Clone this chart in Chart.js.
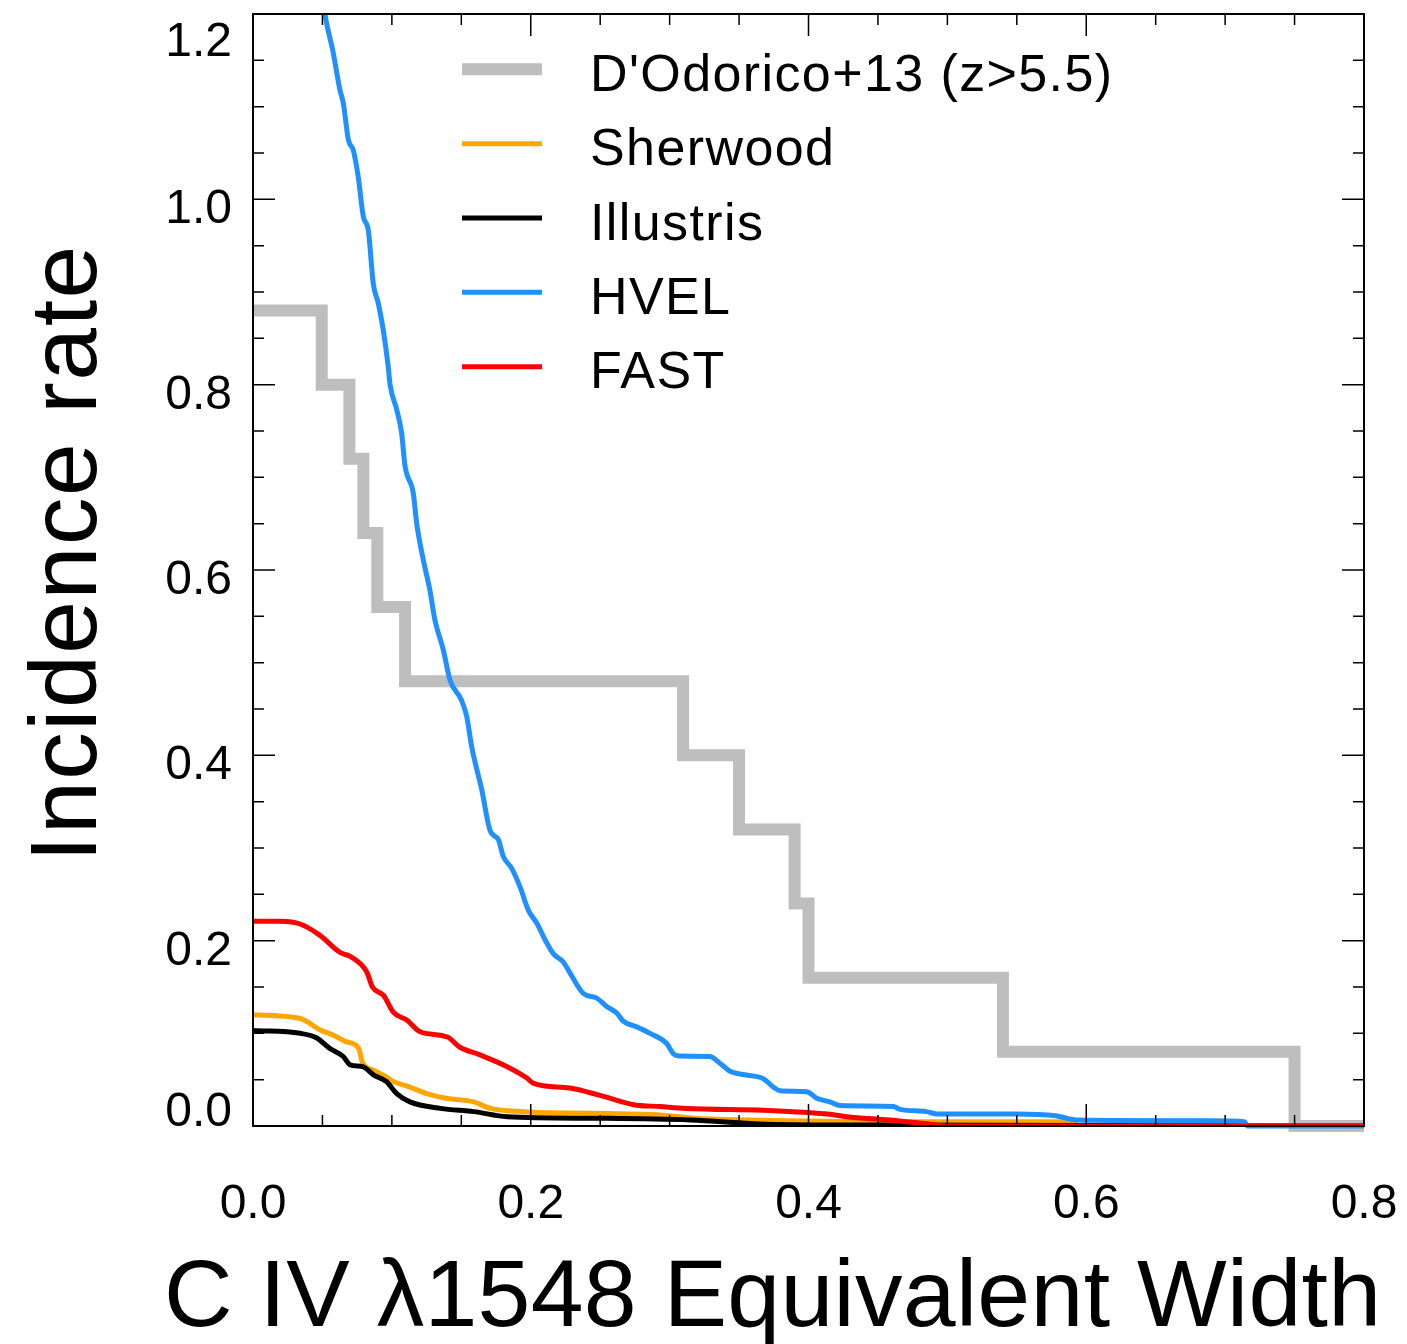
<!DOCTYPE html>
<html><head><meta charset="utf-8">
<script src="https://cdn.jsdelivr.net/npm/chart.js@4/dist/chart.umd.min.js"></script>
<style>html,body{margin:0;padding:0;background:#fff}#wrap{width:1407px;height:1344px;position:relative}</style>
</head><body><div id="wrap"><canvas id="c" width="1407" height="1344"></canvas></div>
<script>
const seriesNames = ["D'Odorico+13 (z>5.5)", 'Sherwood', 'Illustris', 'HVEL', 'FAST'];
const seriesColors = ['#bebebe', '#ffa500', '#000000', '#1e90ff', '#ff0000'];
const xTickLabels = ['0.0', '0.2', '0.4', '0.6', '0.8'];
const yTickLabels = ['0.0', '0.2', '0.4', '0.6', '0.8', '1.0', '1.2'];
const xTitle = 'C IV \u03bb1548 Equivalent Width';
const yTitle = 'Incidence rate';

// D'Odorico+13 observed step function
const dodoricoEW   = [0, 0.0495, 0.0694, 0.0795, 0.0895, 0.1095, 0.3097, 0.350, 0.390, 0.400, 0.540, 0.750, 0.800];
const dodoricoRate = [0.88, 0.80, 0.72, 0.64, 0.56, 0.48, 0.40, 0.32, 0.24, 0.16, 0.08, 0.0, 0.0];

// Sherwood
const sherwoodEW   = [0, 0.034, 0.048, 0.058, 0.067, 0.076, 0.079, 0.087, 0.096, 0.101, 0.113, 0.125, 0.139, 0.159, 0.171, 0.195, 0.2475, 0.293, 0.317, 0.358, 0.456, 0.590, 0.595, 0.800];
const sherwoodRate = [0.120, 0.116, 0.104, 0.098, 0.091, 0.084, 0.068, 0.060, 0.053, 0.048, 0.042, 0.035, 0.030, 0.026, 0.019, 0.0155, 0.0137, 0.012, 0.0083, 0.0065, 0.0047, 0.0045, 0.0, 0.0];

// Illustris
const illustrisEW   = [0, 0.034, 0.046, 0.055, 0.065, 0.070, 0.079, 0.087, 0.096, 0.1035, 0.113, 0.135, 0.159, 0.183, 0.250, 0.315, 0.370, 0.450, 0.800];
const illustrisRate = [0.103, 0.100, 0.095, 0.084, 0.075, 0.066, 0.064, 0.055, 0.048, 0.035, 0.026, 0.019, 0.0155, 0.010, 0.0083, 0.0065, 0.002, 0.001, 0.0];

// HVEL
const hvelEW   = [0, 0.020, 0.035, 0.045, 0.0518, 0.0578, 0.0626, 0.065, 0.0687, 0.0722, 0.0758, 0.0795, 0.083, 0.0866, 0.0902, 0.0938, 0.0974, 0.0986, 0.1035, 0.107, 0.1095, 0.1154, 0.1179, 0.1226, 0.1274, 0.131, 0.137, 0.1419, 0.150, 0.1539, 0.1575, 0.1647, 0.1707, 0.1767, 0.1802, 0.1863, 0.1923, 0.1982, 0.2043, 0.2103, 0.2162, 0.2234, 0.2283, 0.2378, 0.2475, 0.2547, 0.2619, 0.2667, 0.2763, 0.2859, 0.2979, 0.3027, 0.3075, 0.329, 0.336, 0.3435, 0.3555, 0.3675, 0.3747, 0.3795, 0.3987, 0.4059, 0.4155, 0.4227, 0.4611, 0.4659, 0.485, 0.4923, 0.5499, 0.578, 0.593, 0.689, 0.714, 0.716, 0.800];
const hvelRate = [1.52, 1.47, 1.37, 1.28, 1.200, 1.158, 1.118, 1.104, 1.064, 1.053, 1.024, 0.981, 0.967, 0.909, 0.888, 0.859, 0.819, 0.801, 0.773, 0.748, 0.712, 0.683, 0.650, 0.611, 0.578, 0.546, 0.514, 0.481, 0.460, 0.442, 0.409, 0.363, 0.319, 0.309, 0.291, 0.278, 0.258, 0.233, 0.219, 0.201, 0.186, 0.177, 0.165, 0.143, 0.138, 0.129, 0.122, 0.113, 0.107, 0.100, 0.089, 0.078, 0.0755, 0.075, 0.068, 0.059, 0.055, 0.051, 0.042, 0.038, 0.037, 0.030, 0.026, 0.022, 0.021, 0.018, 0.0155, 0.013, 0.013, 0.011, 0.0065, 0.0057, 0.0047, 0.0, 0.0];

// FAST
const fastEW   = [0, 0.020, 0.034, 0.048, 0.063, 0.070, 0.082, 0.086, 0.094, 0.101, 0.111, 0.120, 0.140, 0.149, 0.163, 0.183, 0.197, 0.202, 0.228, 0.250, 0.274, 0.293, 0.312, 0.3675, 0.389, 0.4155, 0.4275, 0.4587, 0.4875, 0.500, 0.800];
const fastRate = [0.221, 0.221, 0.218, 0.206, 0.187, 0.183, 0.166, 0.150, 0.141, 0.123, 0.114, 0.102, 0.096, 0.085, 0.077, 0.064, 0.052, 0.046, 0.041, 0.033, 0.023, 0.021, 0.019, 0.017, 0.0155, 0.0126, 0.010, 0.0065, 0.002, 0.0, 0.0];

const X_MIN = 0, X_MAX = 0.8, Y_MIN = 0, Y_MAX = 1.2;
const MINOR_STEP = 0.05, MAJOR_EVERY = 4;

function pts(xs, ys) { return xs.map((x, i) => ({ x: x, y: ys[i] })); }

const FONT = '"Liberation Sans", Arial, Helvetica, sans-serif';

const decor = {
  id: 'decor',
  afterDatasetsDraw(chart) {
    const ctx = chart.ctx;
    const a = chart.chartArea;
    const xs = chart.scales.x, ys = chart.scales.y;
    ctx.save();
    ctx.strokeStyle = '#000';
    ctx.lineWidth = 2;
    ctx.strokeRect(a.left, a.top, a.right - a.left, a.bottom - a.top);
    ctx.lineWidth = 1.5;
    ctx.beginPath();
    const nx = Math.round((X_MAX - X_MIN) / MINOR_STEP);
    for (let i = 0; i <= nx; i++) {
      const px = xs.getPixelForValue(X_MIN + i * MINOR_STEP);
      const len = (i % MAJOR_EVERY === 0) ? 22 : 11;
      ctx.moveTo(px, a.bottom); ctx.lineTo(px, a.bottom - len);
      ctx.moveTo(px, a.top); ctx.lineTo(px, a.top + len);
    }
    const ny = Math.round((Y_MAX - Y_MIN) / MINOR_STEP);
    for (let i = 0; i <= ny; i++) {
      const py = ys.getPixelForValue(Y_MIN + i * MINOR_STEP);
      const len = (i % MAJOR_EVERY === 0) ? 22 : 11;
      ctx.moveTo(a.left, py); ctx.lineTo(a.left + len, py);
      ctx.moveTo(a.right, py); ctx.lineTo(a.right - len, py);
    }
    ctx.stroke();
    ctx.fillStyle = '#000';
    ctx.font = '48px ' + FONT;
    ctx.textBaseline = 'alphabetic';
    ctx.textAlign = 'center';
    xTickLabels.forEach(t => {
      const px = xs.getPixelForValue(parseFloat(t));
      ctx.fillText(t, px, a.bottom + 92);
    });
    ctx.textAlign = 'right';
    const h = 48 * 0.716;
    yTickLabels.forEach(t => {
      const py = ys.getPixelForValue(parseFloat(t));
      let base = py + 24;
      if (base - h < a.top + 8) base = a.top + 8 + h;
      if (base > a.bottom) base = a.bottom;
      ctx.fillText(t, a.left - 21, base);
    });
    ctx.font = '95px ' + FONT;
    ctx.textAlign = 'left';
    ctx.letterSpacing = '0.3px';
    ctx.fillText(xTitle, 164, 1326);
    ctx.save();
    ctx.translate(96, 553);
    ctx.rotate(-Math.PI / 2);
    ctx.textAlign = 'center';
    ctx.letterSpacing = '1.5px';
    ctx.fillText(yTitle, 0, 0);
    ctx.restore();
    ctx.font = '52px ' + FONT;
    ctx.textAlign = 'left';
    ctx.letterSpacing = '1.4px';
    chart.data.datasets.forEach((d, i) => {
      const y = 69.3 + i * 74.35;
      ctx.beginPath();
      ctx.strokeStyle = d.borderColor;
      ctx.lineWidth = d.borderWidth;
      ctx.lineCap = 'butt';
      ctx.moveTo(462, y); ctx.lineTo(542, y);
      ctx.stroke();
      ctx.fillStyle = '#000';
      ctx.fillText(d.label, 590, y + 21.5);
    });
    ctx.restore();
  }
};

const common = { pointRadius: 0, pointHoverRadius: 0, fill: false, borderJoinStyle: 'miter', borderCapStyle: 'butt' };
const smooth = { cubicInterpolationMode: 'monotone' };

new Chart(document.getElementById('c'), {
  type: 'line',
  data: {
    datasets: [
      Object.assign({ label: seriesNames[0], data: pts(dodoricoEW, dodoricoRate), borderColor: seriesColors[0], borderWidth: 12, stepped: 'before', order: 5, clip: { left: 0, top: 0, right: 0, bottom: 8 } }, common),
      Object.assign({ label: seriesNames[1], data: pts(sherwoodEW, sherwoodRate), borderColor: seriesColors[1], borderWidth: 5, order: 4 }, common, smooth),
      Object.assign({ label: seriesNames[2], data: pts(illustrisEW, illustrisRate), borderColor: seriesColors[2], borderWidth: 5, order: 3 }, common, smooth),
      Object.assign({ label: seriesNames[3], data: pts(hvelEW, hvelRate), borderColor: seriesColors[3], borderWidth: 5, order: 2, clip: { left: 0, top: 0, right: 0, bottom: 4 } }, common, smooth),
      Object.assign({ label: seriesNames[4], data: pts(fastEW, fastRate), borderColor: seriesColors[4], borderWidth: 5, order: 1 }, common, smooth)
    ]
  },
  options: {
    responsive: false,
    animation: false,
    events: [],
    layout: { padding: { left: 253, top: 14, right: 43, bottom: 218 } },
    plugins: { legend: { display: false }, title: { display: false }, tooltip: { enabled: false } },
    scales: {
      x: { type: 'linear', min: X_MIN, max: X_MAX, display: false },
      y: { type: 'linear', min: Y_MIN, max: Y_MAX, display: false }
    }
  },
  plugins: [decor]
});
</script>
</body></html>
